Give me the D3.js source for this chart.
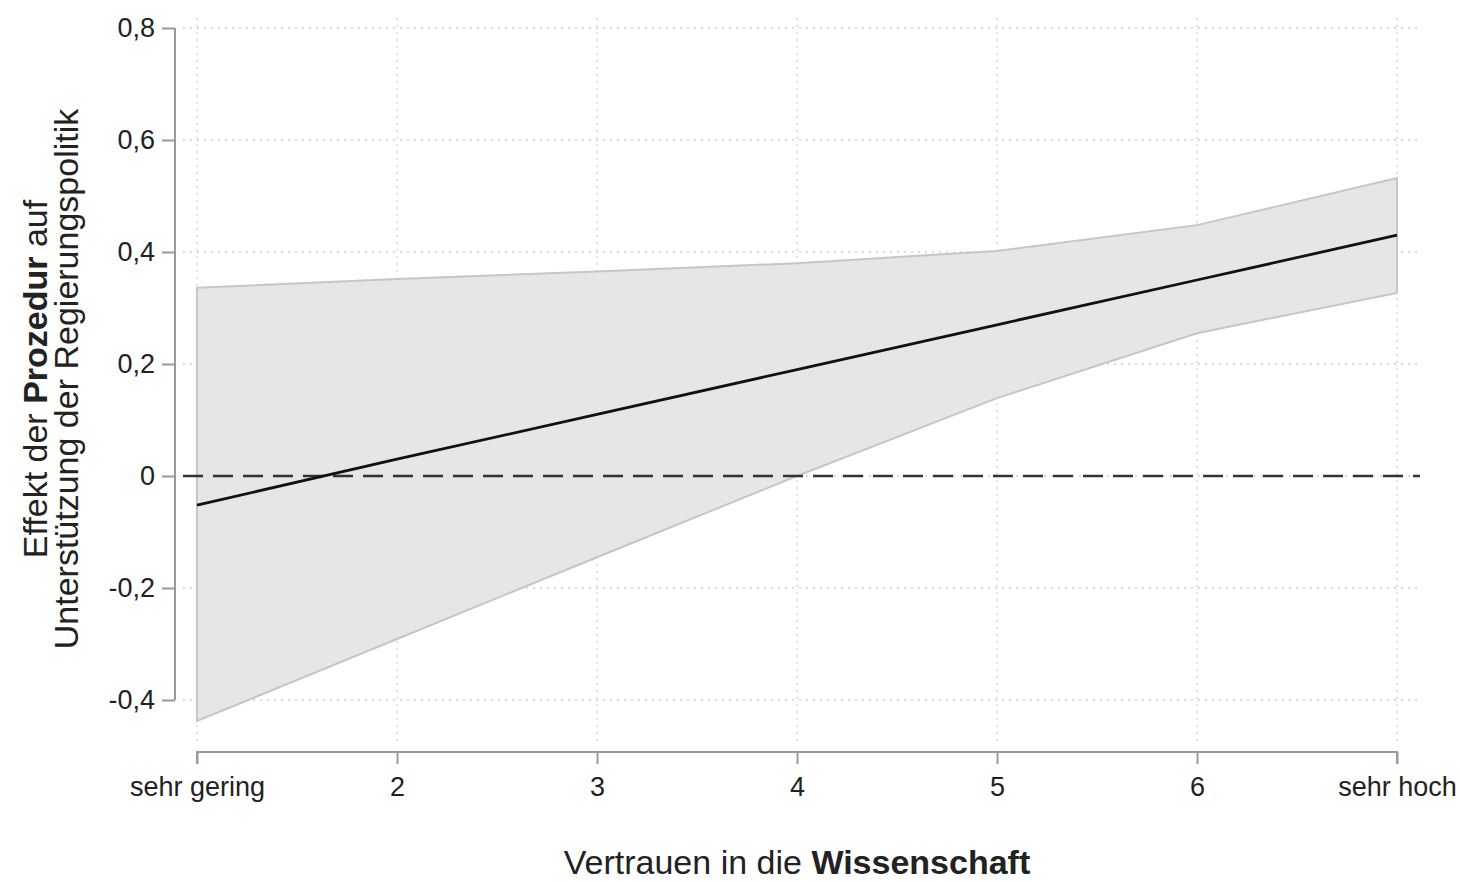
<!DOCTYPE html>
<html>
<head>
<meta charset="utf-8">
<script src="https://cdn.jsdelivr.net/npm/d3@7"></script>
<style>
  body { margin: 0; background: #fff; }
  text { font-family: "Liberation Sans", Arial, sans-serif; fill: #222; }
</style>
</head>
<body>
<svg id="chart" width="1460" height="882"></svg>
<script>
// values
const trust = [1, 2, 3, 4, 5, 6, 7];
const effect = [-0.052, 0.03, 0.11, 0.19, 0.27, 0.35, 0.43];
const ciUpper = [0.336, 0.352, 0.365, 0.38, 0.402, 0.448, 0.532];
const ciLower = [-0.4375, -0.291, -0.145, 0.0, 0.139, 0.255, 0.327];
const xTickLabels = ['sehr gering', '2', '3', '4', '5', '6', 'sehr hoch'];
const yTicks = [-0.4, -0.2, 0, 0.2, 0.4, 0.6, 0.8];

const svg = d3.select('#chart');

const x = d3.scaleLinear().domain([1, 7]).range([197, 1397]);
const y = d3.scaleLinear().domain([-0.4, 0.8]).range([700, 28]);

const fmt = d => d === 0 ? '0' : d3.format('.1f')(d).replace('.', ',').replace('−', '-');

// grid
const grid = svg.append('g').attr('class', 'grid')
  .attr('stroke', '#d0d0d0').attr('stroke-width', 1.3).attr('stroke-dasharray', '2,5');
grid.selectAll('line.h').data(yTicks).join('line')
  .attr('class', 'h')
  .attr('x1', 183).attr('x2', 1420)
  .attr('y1', d => y(d)).attr('y2', d => y(d));
grid.selectAll('line.v').data(trust).join('line')
  .attr('class', 'v')
  .attr('x1', d => x(d)).attr('x2', d => x(d))
  .attr('y1', 18).attr('y2', 745);

// confidence band
const pts = trust.map((t, i) => ({ t, lo: ciLower[i], hi: ciUpper[i], m: effect[i] }));
svg.append('path')
  .datum(pts)
  .attr('fill', '#e6e6e6')
  .attr('stroke', '#c6c6c6')
  .attr('stroke-width', 2)
  .attr('d', d3.area().x(d => x(d.t)).y0(d => y(d.lo)).y1(d => y(d.hi)));

// zero reference
svg.append('line')
  .attr('x1', 183).attr('x2', 1420)
  .attr('y1', y(0)).attr('y2', y(0))
  .attr('stroke', '#333').attr('stroke-width', 2.6)
  .attr('stroke-dasharray', '20,10');

// estimate
svg.append('path')
  .datum(pts)
  .attr('fill', 'none')
  .attr('stroke', '#111')
  .attr('stroke-width', 2.8)
  .attr('d', d3.line().x(d => x(d.t)).y(d => y(d.m)));

// y axis
const yAxis = svg.append('g')
  .attr('transform', 'translate(175,0)')
  .call(d3.axisLeft(y).tickValues(yTicks).tickFormat(fmt).tickSize(13).tickPadding(7));
yAxis.select('.domain').attr('stroke', '#999').attr('stroke-width', 2).attr('d', `M0,${y(0.8)}V${y(-0.4)}`);
yAxis.selectAll('.tick line').attr('stroke', '#999').attr('stroke-width', 2);
yAxis.selectAll('.tick text').attr('font-size', 27).attr('fill', '#222');

// x axis
const xAxis = svg.append('g')
  .attr('transform', 'translate(0,752)')
  .call(d3.axisBottom(x).tickValues(trust).tickFormat((d, i) => xTickLabels[i]).tickSize(12).tickPadding(13));
xAxis.select('.domain').attr('stroke', '#999').attr('stroke-width', 2).attr('d', `M${x(1)},12V0H${x(7)}V12`);
xAxis.selectAll('.tick line').attr('stroke', '#999').attr('stroke-width', 2);
xAxis.selectAll('.tick text').attr('font-size', 27).attr('fill', '#222');

// axis titles
const xt = svg.append('text')
  .attr('x', 797).attr('y', 874)
  .attr('text-anchor', 'middle')
  .attr('font-size', 34);
xt.append('tspan').text('Vertrauen in die ');
xt.append('tspan').attr('font-weight', 'bold').text('Wissenschaft');

const yt = svg.append('text')
  .attr('transform', 'translate(0,379) rotate(-90)')
  .attr('text-anchor', 'middle')
  .attr('font-size', 34);
yt.append('tspan').attr('x', 0).attr('y', 47).text('Effekt der ');
yt.append('tspan').attr('font-weight', 'bold').text('Prozedur');
yt.append('tspan').text(' auf');
yt.append('tspan').attr('x', 0).attr('y', 78).text('Unterstützung der Regierungspolitik');
</script>
</body>
</html>
